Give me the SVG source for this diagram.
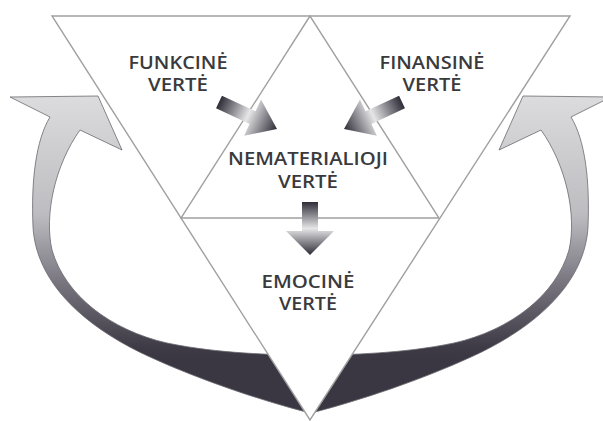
<svg xmlns="http://www.w3.org/2000/svg" width="603" height="421" viewBox="0 0 603 421">
  <defs>
    <linearGradient id="bigGrad" gradientUnits="userSpaceOnUse" x1="0" y1="95" x2="0" y2="360">
      <stop offset="0" stop-color="#dcdcde"/>
      <stop offset="0.45" stop-color="#bdbdc1"/>
      <stop offset="0.72" stop-color="#75727c"/>
      <stop offset="0.95" stop-color="#3e3b46"/>
      <stop offset="1" stop-color="#3a3742"/>
    </linearGradient>
    <linearGradient id="smallGrad" x1="0" y1="0" x2="1" y2="0">
      <stop offset="0" stop-color="#2f2c37"/>
      <stop offset="0.5" stop-color="#e6e6e8"/>
      <stop offset="1" stop-color="#2e2b36"/>
    </linearGradient>
    <path id="smallArrow" d="M0,-7 L37,-7 L37,-20 L64,0 L37,20 L37,7 L0,7 Z"/>
    <path id="bigArrow" d="M10,97 L98,96 L122,150 L80,130 C55,165 44,215 52,250 C65,295 110,330 167,343 C220,354 270,354 306,356 L306,412 C260,400 200,380 150,357 C80,325 36,280 33,227 C31,180 36,140 50,117 Z"/>
  </defs>
  <style>
    .edge { fill: none; stroke: #a0a0a0; stroke-width: 1.4; }
    .label { font-family: "Open Sans", "Liberation Sans", sans-serif; font-weight: 600; font-size: 17.5px; fill: #3a3a3d; text-anchor: middle; }
    .big { fill: url(#bigGrad); stroke: #6a6870; stroke-width: 0.8; }
    .small { fill: url(#smallGrad); }
  </style>
  <rect width="603" height="421" fill="#ffffff"/>

  <g id="connectors">
    <use id="loop-left" href="#bigArrow" class="big"/>
    <use id="loop-right" href="#bigArrow" class="big" transform="translate(621,0) scale(-1,1)"/>
  </g>

  <g id="triangles">
    <polygon points="52,16 570,16 310,420" class="edge" style="fill:#ffffff"/>
    <polygon points="310,16 181,218 439,218" class="edge"/>
  </g>

  <g id="arrows">
    <use id="arrow-funkcine" href="#smallArrow" class="small" transform="translate(219,102) rotate(25)"/>
    <use id="arrow-finansine" href="#smallArrow" class="small" transform="translate(402,102) rotate(155)"/>
    <g transform="translate(310,202) rotate(90)">
      <path id="arrow-emocine" d="M0,-8 L29,-8 L29,-24 L53,0 L29,24 L29,8 L0,8 Z" class="small"/>
    </g>
  </g>

  <g id="node-funkcine">
    <text class="label" x="178" y="69" textLength="99" lengthAdjust="spacingAndGlyphs">FUNKCINĖ</text>
    <text class="label" x="178" y="91" textLength="60" lengthAdjust="spacingAndGlyphs">VERTĖ</text>
  </g>
  <g id="node-finansine">
    <text class="label" x="432" y="69" textLength="105" lengthAdjust="spacingAndGlyphs">FINANSINĖ</text>
    <text class="label" x="432" y="91" textLength="59" lengthAdjust="spacingAndGlyphs">VERTĖ</text>
  </g>
  <g id="node-nematerialioji">
    <text class="label" x="308" y="165" textLength="160" lengthAdjust="spacingAndGlyphs">NEMATERIALIOJI</text>
    <text class="label" x="308" y="188" textLength="60" lengthAdjust="spacingAndGlyphs">VERTĖ</text>
  </g>
  <g id="node-emocine">
    <text class="label" x="308" y="288" textLength="93" lengthAdjust="spacingAndGlyphs">EMOCINĖ</text>
    <text class="label" x="308" y="310" textLength="58" lengthAdjust="spacingAndGlyphs">VERTĖ</text>
  </g>
</svg>
